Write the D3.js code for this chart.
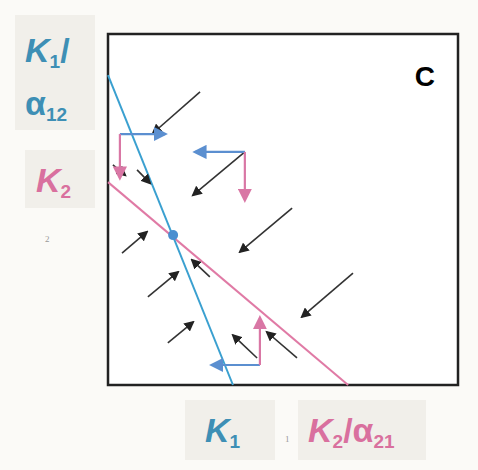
<!DOCTYPE html><html><head><meta charset="utf-8"><script src="https://cdn.jsdelivr.net/npm/d3@7"></script>
<style>body{margin:0;background:#fbfaf7}</style></head><body><svg id="c" width="478" height="470"></svg><script>
const blueLine=[[0,8.83],[3.57,0]];
const pinkLine=[[0,5.78],[6.86,0]];
const equilibrium=[1.86,4.27];
const blackArrows=[[2.63,8.35,1.29,7.18],[3.91,6.64,2.43,5.41],[5.26,5.04,3.77,3.79],[7.0,3.19,5.54,1.94],[0.4,3.76,1.11,4.36],[1.14,2.51,2.0,3.22],[1.71,1.2,2.43,1.79],[5.4,0.77,4.54,1.51],[4.26,0.77,3.57,1.42],[2.91,3.08,2.4,3.56],[0.14,6.27,0.49,5.98],[0.83,6.13,1.2,5.75]];
const blueComps=[[0.34,7.15,1.63,7.15],[3.91,6.64,2.49,6.64],[4.34,0.57,2.97,0.57]];
const pinkComps=[[0.34,7.15,0.34,5.9],[3.91,6.64,3.91,5.27],[4.34,0.57,4.34,1.91]];
const svg=d3.select("#c");
const x=d3.scaleLinear([0,10],[108,458]), y=d3.scaleLinear([0,10],[385,34]);
function marker(id,c){svg.append("defs").append("marker").attr("id",id).attr("viewBox","0 0 10 10").attr("refX",8).attr("refY",5).attr("markerWidth",6.5).attr("markerHeight",6.5).attr("markerUnits","strokeWidth").attr("orient","auto").append("path").attr("d","M0,0L10,5L0,10z").attr("fill",c);}
marker("mk","#222");marker("mb","#5b8fd0");marker("mp","#d977a5");
const boxes=[[15,15,80,115],[25,150,70,58],[185,400,90,60],[298,400,128,60]];
svg.selectAll("rect.b").data(boxes).join("rect").attr("x",d=>d[0]).attr("y",d=>d[1]).attr("width",d=>d[2]).attr("height",d=>d[3]).attr("fill","#f1efea");
svg.append("rect").attr("x",x(0)).attr("y",y(10)).attr("width",x(10)-x(0)).attr("height",y(0)-y(10)).attr("fill","#fff").attr("stroke","#222").attr("stroke-width",2.5);
const ln=d3.line().x(d=>x(d[0])).y(d=>y(d[1]));
svg.append("path").attr("d",ln(pinkLine)).attr("stroke","#e07aa5").attr("stroke-width",2).attr("fill","none");
svg.append("path").attr("d",ln(blueLine)).attr("stroke","#3aa0d0").attr("stroke-width",2).attr("fill","none");
svg.append("circle").attr("cx",x(equilibrium[0])).attr("cy",y(equilibrium[1])).attr("r",5).attr("fill","#4a8ed0");
function arrows(data,c,m,w){svg.append("g").selectAll("line").data(data).join("line").attr("x1",d=>x(d[0])).attr("y1",d=>y(d[1])).attr("x2",d=>x(d[2])).attr("y2",d=>y(d[3])).attr("stroke",c).attr("stroke-width",w).attr("marker-end",`url(#${m})`);}
arrows(blackArrows,"#333","mk",1.6);
arrows(blueComps,"#5b8fd0","mb",2.2);
arrows(pinkComps,"#d977a5","mp",2.2);
svg.append("text").attr("x",435).attr("y",86).attr("text-anchor","end").attr("font-family","Liberation Sans").attr("font-weight","bold").attr("font-size",28).text("C");
const T=(t,xx,yy,c,s)=>svg.append("text").attr("x",xx).attr("y",yy).attr("fill",c).attr("font-family","Liberation Sans").attr("font-weight","bold").attr("font-size",s||34).html(t);
T('<tspan font-style="italic">K</tspan><tspan font-size="19" dy="6">1</tspan><tspan dy="-6">/</tspan>',25,62,"#3e8fb5");
T('α<tspan font-size="19" dy="6">12</tspan>',25,115,"#3e8fb5");
T('<tspan font-style="italic">K</tspan><tspan font-size="19" dy="6">2</tspan>',36,192,"#d9709e");
T('<tspan font-style="italic">K</tspan><tspan font-size="19" dy="6">1</tspan>',205,442,"#3e8fb5");
T('<tspan font-style="italic">K</tspan><tspan font-size="19" dy="6">2</tspan><tspan dy="-6">/α</tspan><tspan font-size="19" dy="6">21</tspan>',308,442,"#d9709e");
svg.append("text").attr("x",45).attr("y",242).attr("fill","#999").attr("font-size",9).text("2");
svg.append("text").attr("x",285).attr("y",442).attr("fill","#999").attr("font-size",9).text("1");
</script></body></html>
